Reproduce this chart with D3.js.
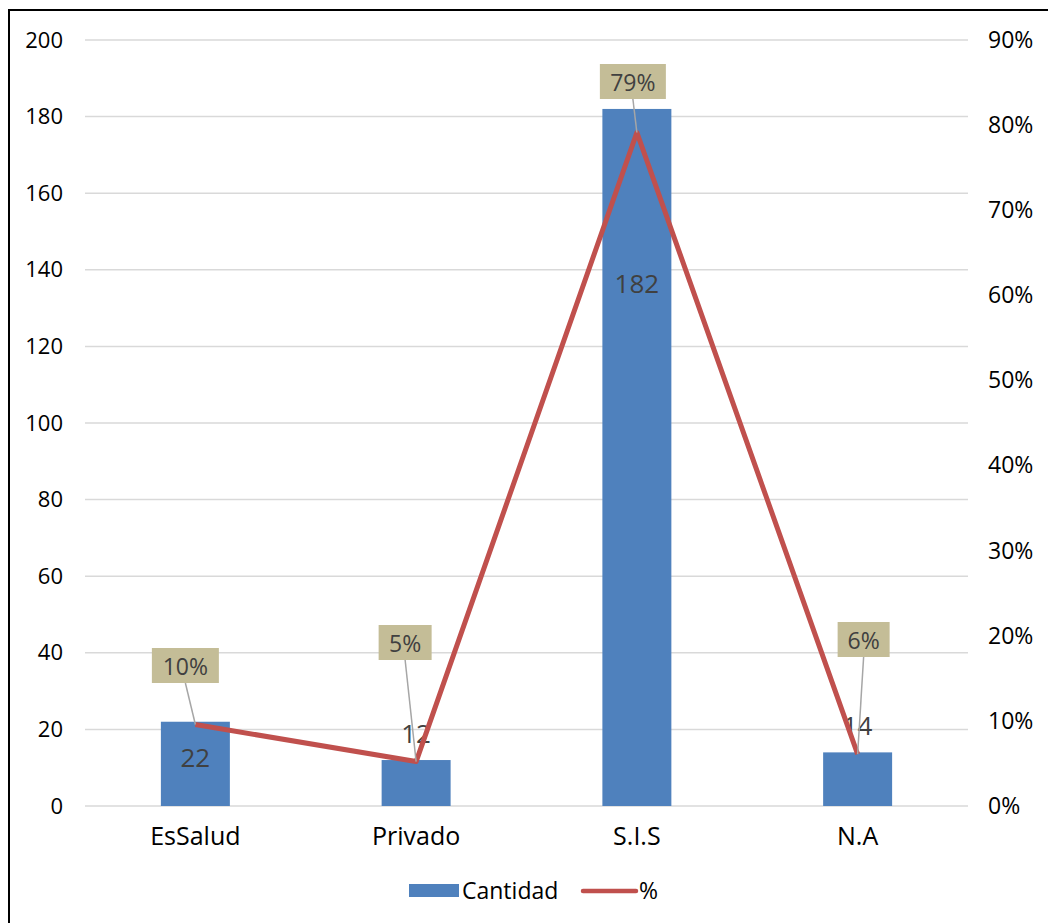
<!DOCTYPE html>
<meta charset="utf-8">
<script src="https://d3js.org/d3.v7.min.js"></script>
<style>
  body { margin: 0; background: #fff; }
  text { font-family: "Open Sans", "Noto Sans", sans-serif; }
</style>
<div id="chart"></div>
<script>
// data
var categories = ["EsSalud", "Privado", "S.I.S", "N.A"];
var cantidad = [22, 12, 182, 14];
var porcentaje = [9.57, 5.22, 79.13, 6.09];
var pctLabels = ["10%", "5%", "79%", "6%"];
var leftTicks = [0, 20, 40, 60, 80, 100, 120, 140, 160, 180, 200];
var rightTicks = [0, 10, 20, 30, 40, 50, 60, 70, 80, 90];

var W = 1048, H = 923;
var plot = {left: 85, right: 968, top: 40, bottom: 806};
var FONT = "'Open Sans', 'Noto Sans', sans-serif";

var svg = d3.select("#chart").append("svg")
  .attr("width", W).attr("height", H);

// outer frame (right / bottom edges fall outside the picture)
svg.append("rect")
  .attr("x", 9).attr("y", 10)
  .attr("width", W + 20).attr("height", H + 20)
  .attr("fill", "none").attr("stroke", "#000").attr("stroke-width", 2);

var x = d3.scaleBand().domain(categories)
  .range([plot.left, plot.right]).paddingInner(0.6875).paddingOuter(0.34375);
var yL = d3.scaleLinear().domain([0, 200]).range([plot.bottom, plot.top]);
var yR = d3.scaleLinear().domain([0, 90]).range([plot.bottom, plot.top]);

// gridlines
svg.append("g").selectAll("line").data(leftTicks).enter().append("line")
  .attr("x1", plot.left).attr("x2", plot.right)
  .attr("y1", d => yL(d)).attr("y2", d => yL(d))
  .attr("stroke", "#D9D9D9").attr("stroke-width", 1.5);

// left axis
var gL = svg.append("g").attr("transform", "translate(" + (plot.left - 22) + ",0)")
  .call(d3.axisLeft(yL).tickValues(leftTicks).tickSize(0).tickPadding(0));
gL.select(".domain").remove();
gL.selectAll("text").attr("font-size", 22).attr("fill", "#000").style("font-family", FONT);

// right axis
var gR = svg.append("g").attr("transform", "translate(" + (plot.right + 20) + ",0)")
  .call(d3.axisRight(yR).tickValues(rightTicks).tickSize(0).tickPadding(0)
    .tickFormat(d => d + "%"));
gR.select(".domain").remove();
gR.selectAll("text").attr("font-size", 23).attr("fill", "#000").style("font-family", FONT);

// category axis
var gX = svg.append("g").attr("transform", "translate(0," + plot.bottom + ")")
  .call(d3.axisBottom(x).tickSize(0).tickPadding(21));
gX.select(".domain").remove();
gX.selectAll("text").attr("font-size", 25).attr("fill", "#000").style("font-family", FONT);

// bars
svg.append("g").selectAll("rect").data(categories).enter().append("rect")
  .attr("x", d => x(d))
  .attr("width", x.bandwidth())
  .attr("y", (d, i) => yL(cantidad[i]))
  .attr("height", (d, i) => yL(0) - yL(cantidad[i]))
  .attr("fill", "#4F81BD");

// bar value labels (baseline offset from bar top)
var valueOffset = [45, -17, 184, -17];
svg.append("g").selectAll("text").data(categories).enter().append("text")
  .attr("x", d => x(d) + x.bandwidth() / 2)
  .attr("y", (d, i) => yL(cantidad[i]) + valueOffset[i])
  .attr("text-anchor", "middle")
  .attr("font-size", 26).attr("fill", "#404040")
  .text((d, i) => cantidad[i]);

// percentage line
var cx = d => x(d) + x.bandwidth() / 2;
var line = d3.line().x(d => cx(d)).y((d, i) => yR(porcentaje[i]));

// leader lines + label boxes
var boxes = [
  {dx: -10, top: 648, w: 67},
  {dx: -11, top: 625, w: 53},
  {dx: -4, top: 64, w: 66},
  {dx: 6, top: 622, w: 52}
];
var lbl = svg.append("g");
categories.forEach(function (c, i) {
  var b = boxes[i];
  var bx = cx(c) + b.dx;
  lbl.append("line")
    .attr("x1", bx).attr("y1", b.top + 35)
    .attr("x2", cx(c)).attr("y2", yR(porcentaje[i]))
    .attr("stroke", "#A6A6A6").attr("stroke-width", 1.5);
});

svg.append("path").datum(categories)
  .attr("d", line)
  .attr("fill", "none").attr("stroke", "#C0504D")
  .attr("stroke-width", 5).attr("stroke-linejoin", "round");

categories.forEach(function (c, i) {
  var b = boxes[i];
  var bx = cx(c) + b.dx;
  lbl.append("rect")
    .attr("x", bx - b.w / 2).attr("y", b.top)
    .attr("width", b.w).attr("height", 35)
    .attr("fill", "#C4BD97");
  lbl.append("text")
    .attr("x", bx).attr("y", b.top + 27)
    .attr("text-anchor", "middle")
    .attr("font-size", 23).attr("fill", "#404040")
    .text(pctLabels[i]);
});
lbl.raise();

// legend
var lg = svg.append("g");
lg.append("rect").attr("x", 409).attr("y", 884).attr("width", 50).attr("height", 13)
  .attr("fill", "#4F81BD");
lg.append("text").attr("x", 462).attr("y", 899).attr("font-size", 23).attr("fill", "#000")
  .text("Cantidad");
lg.append("line").attr("x1", 583).attr("x2", 636).attr("y1", 891).attr("y2", 891)
  .attr("stroke", "#C0504D").attr("stroke-width", 4.5).attr("stroke-linecap", "round");
lg.append("text").attr("x", 639).attr("y", 899).attr("font-size", 23).attr("fill", "#000")
  .text("%");
</script>
